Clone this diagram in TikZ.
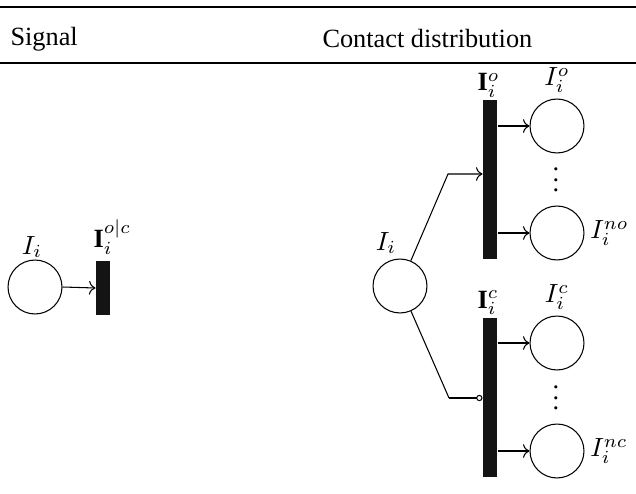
\documentclass[tikz,border=0pt]{standalone}
\usepackage{fontspec}
\setmainfont{Liberation Serif}
\usepackage{amsmath}
\usepackage{tikz}
\usetikzlibrary{positioning, arrows.meta}
\tikzset{
    place/.style = {
        draw, circle,
        minimum size = 20.5pt,
        inner sep = 0pt
    },
    trans/.style = {
        fill = black!92, draw = none,
        minimum width = 5.3pt,
        inner sep = 0pt
    },
    short/.style = {trans, minimum height = 20.5pt},
    tall/.style = {trans, minimum height = 60.4pt},
    lab/.style = {inner sep = 0pt},
    line/.style = {->},
    inhib/.style = {-{Circle[open, length=2.4pt, line width=0.4pt]}}
}

\begin{document}
\begin{tikzpicture}[x=0.38pt, y=-0.38pt]

                                \useasboundingbox (0,0) rectangle (636,494);

                                % header rules
                                \draw[line width=0.5pt] (0,7) -- (636,7);
                                \draw[line width=1.1pt] (0,63) -- (636,63);
                                \node[lab, anchor=west] (hsig) at (10,39) {Signal};
                                \node[lab, anchor=west] (hcon) at (322,39) {Contact distribution};

                                % Signal
                                \node[place] (p) at (35,287) {};
                                \node[lab] (plab) at (32,247) {$I_i$};
                                \node[short] (t) at (103,288) {};
                                \node[lab, anchor=base west] (tlab) at (93,247) {$\mathbf{I}_i^{o|c}$};
                                \draw[line] (p.east) -- (t.west);

                                % Contact distribution
                                \node[place] (pi) at (400,286) {};
                                \node[lab] (pilab) at (386,243) {$I_i$};

                                \node[tall] (to) at (490,179.5) {};
                                \node[lab, anchor=base west] (tolab) at (477,91) {$\mathbf{I}_i^{o}$};
                                \node[place] (po1) at (557,126) {};
                                \node[place] (po2) at (557,233) {};
                                \node[lab, above = 2pt of po1] (po1lab) {$I_i^{o}$};
                                \node[lab, right = 2pt of po2] (po2lab) {$I_i^{no}$};
                                \node[lab] (odots) at (556,172) {$\vdots$};

                                \node[tall] (tc) at (490,397.5) {};
                                \node[lab, anchor=base west] (tclab) at (477,308) {$\mathbf{I}_i^{c}$};
                                \node[place] (pc1) at (557,343) {};
                                \node[place] (pc2) at (557,451) {};
                                \node[lab, above = 2pt of pc1] (pc1lab) {$I_i^{c}$};
                                \node[lab, right = 2pt of pc2] (pc2lab) {$I_i^{nc}$};
                                \node[lab] (cdots) at (556,390) {$\vdots$};

                                \coordinate (bo) at (448,174);
                                \coordinate (bc) at (449,398);

                                \draw[line] (pi) -- (bo) -- (bo -| to.west);
                                \draw (pi) -- (bc);
                                \draw[inhib, line width=0.7pt] (bc) -- (bc -| tc.west);
                                \draw[line] (to.east |- po1) -- (po1.west);
                                \draw[line] (to.east |- po2) -- (po2.west);
                                \draw[line] (tc.east |- pc1) -- (pc1.west);
                                \draw[line] (tc.east |- pc2) -- (pc2.west);

                            \end{tikzpicture}
\end{document}
